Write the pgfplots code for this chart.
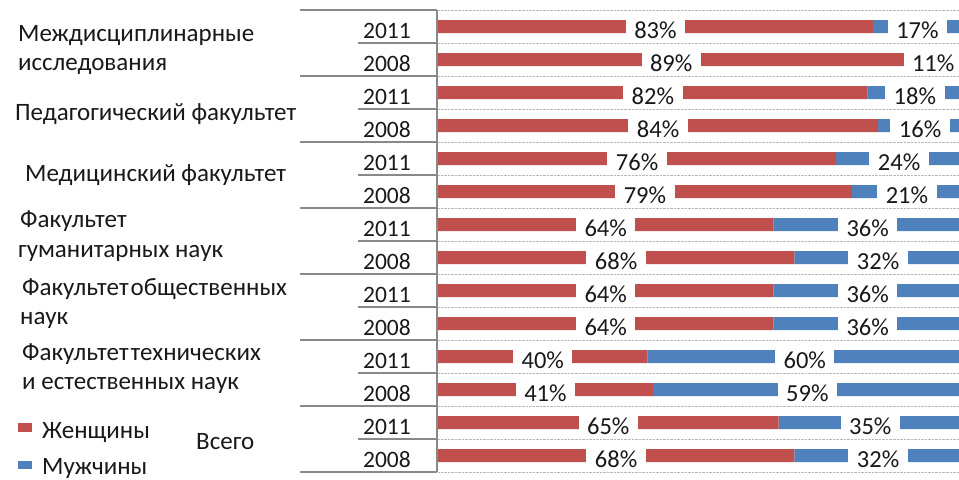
\documentclass[border=0pt]{standalone}
\usepackage{fontspec}
\setmainfont{Carlito}
\usepackage{pgfplots}
\pgfplotsset{compat=1.18}
\usepackage{pgfplotstable}

\definecolor{wred}{HTML}{C0504D}
\definecolor{mblue}{HTML}{4F81BD}
\definecolor{linegray}{HTML}{898989}

\pgfplotstableread{
row w m
0 83 17
1 89 11
2 82 18
3 84 16
4 76 24
5 79 21
6 64 36
7 68 32
8 64 36
9 64 36
10 40 60
11 41 59
12 65 35
13 68 32
}\datatable

\newcommand{\grpfont}{\fontsize{25bp}{30bp}\selectfont}

\pgfplotsset{
  common/.style={
    at={(438bp,-472bp)}, anchor=south west,
    width=521bp, height=462bp, scale only axis,
    xmin=0, xmax=99.43,
    ymin=-0.5, ymax=13.5, y dir=reverse,
  },
  lbl/.style={draw=none, mark=none, /pgf/number format/assume math mode=true,
    nodes near coords={\pgfmathprintnumber{\pgfplotspointmeta}\%},
    nodes near coords style={anchor=base, yshift=-12bp, fill=white, inner xsep=8.5bp, inner ysep=0pt, text height=19bp, text depth=0pt, text=black!90, font=\fontsize{24.5bp}{28bp}\selectfont}},
}

\begin{document}
\begin{tikzpicture}
\useasboundingbox (0bp,0bp) rectangle (959bp,-480bp);
\begin{axis}[
  common,
  xbar stacked, bar width=13bp,
  axis line style={draw=none},
  xtick=\empty,
  ytick={0,...,13},
  yticklabels={2011,2008,2011,2008,2011,2008,2011,2008,2011,2008,2011,2008,2011,2008},
  major tick length=0pt,
  yticklabel style={anchor=base east, inner sep=0pt, xshift=-27bp, yshift=-11.5bp, text=black!90, font=\fontsize{23.5bp}{28bp}\selectfont},
  extra y ticks={-0.5,0.5,...,13.5},
  extra y tick labels={},
  extra y tick style={grid=major, major grid style={gray!55, densely dotted, line width=0.9bp}},
]
\addplot[fill=wred, draw=none] table[x=w, y=row] {\datatable};
\addplot[fill=mblue, draw=none] table[x=m, y=row] {\datatable};
\end{axis}
\begin{axis}[common, hide axis, clip=false]
\addplot[lbl, point meta=\thisrow{w}] table[x expr=\thisrow{w}/2, y=row] {\datatable};
\addplot[lbl, point meta=\thisrow{m}] table[x expr=\thisrow{w}+\thisrow{m}/2, y=row] {\datatable};
\end{axis}
\begin{scope}[x=1bp, y=-1bp]
  \draw[linegray, line width=2bp] (437,10) -- (437,472);
  \foreach \k in {0,2,...,14} \draw[linegray, line width=1.6bp] (300,{10+33*\k}) -- (437,{10+33*\k});
  \foreach \k in {1,3,...,13} \draw[linegray, line width=1.6bp] (358,{10+33*\k}) -- (437,{10+33*\k});
  % legend
  \fill[wred] (18,423) rectangle (32,432);
  \fill[mblue] (18,461) rectangle (32,469);
  \begin{scope}[every node/.style={anchor=base west, inner sep=0pt, font=\grpfont, text=black!90}]
    \node at (18,41) {Междисциплинарные};
    \node at (18,70) {исследования};
    \node at (15,120) {Педагогический факультет};
    \node at (25,181) {Медицинский факультет};
    \node at (20,227) {Факультет};
    \node at (18,257) {гуманитарных наук};
    \node at (22,295) {Факультет\hspace{2bp}общественных};
    \node at (20,324) {наук};
    \node at (22,360) {Факультет\hspace{2bp}технических};
    \node at (22,389) {и естественных наук};
    \node at (42,438) {Женщины};
    \node at (42,474) {Мужчины};
    \node at (196,449) {Всего};
  \end{scope}
\end{scope}
\end{tikzpicture}
\end{document}
